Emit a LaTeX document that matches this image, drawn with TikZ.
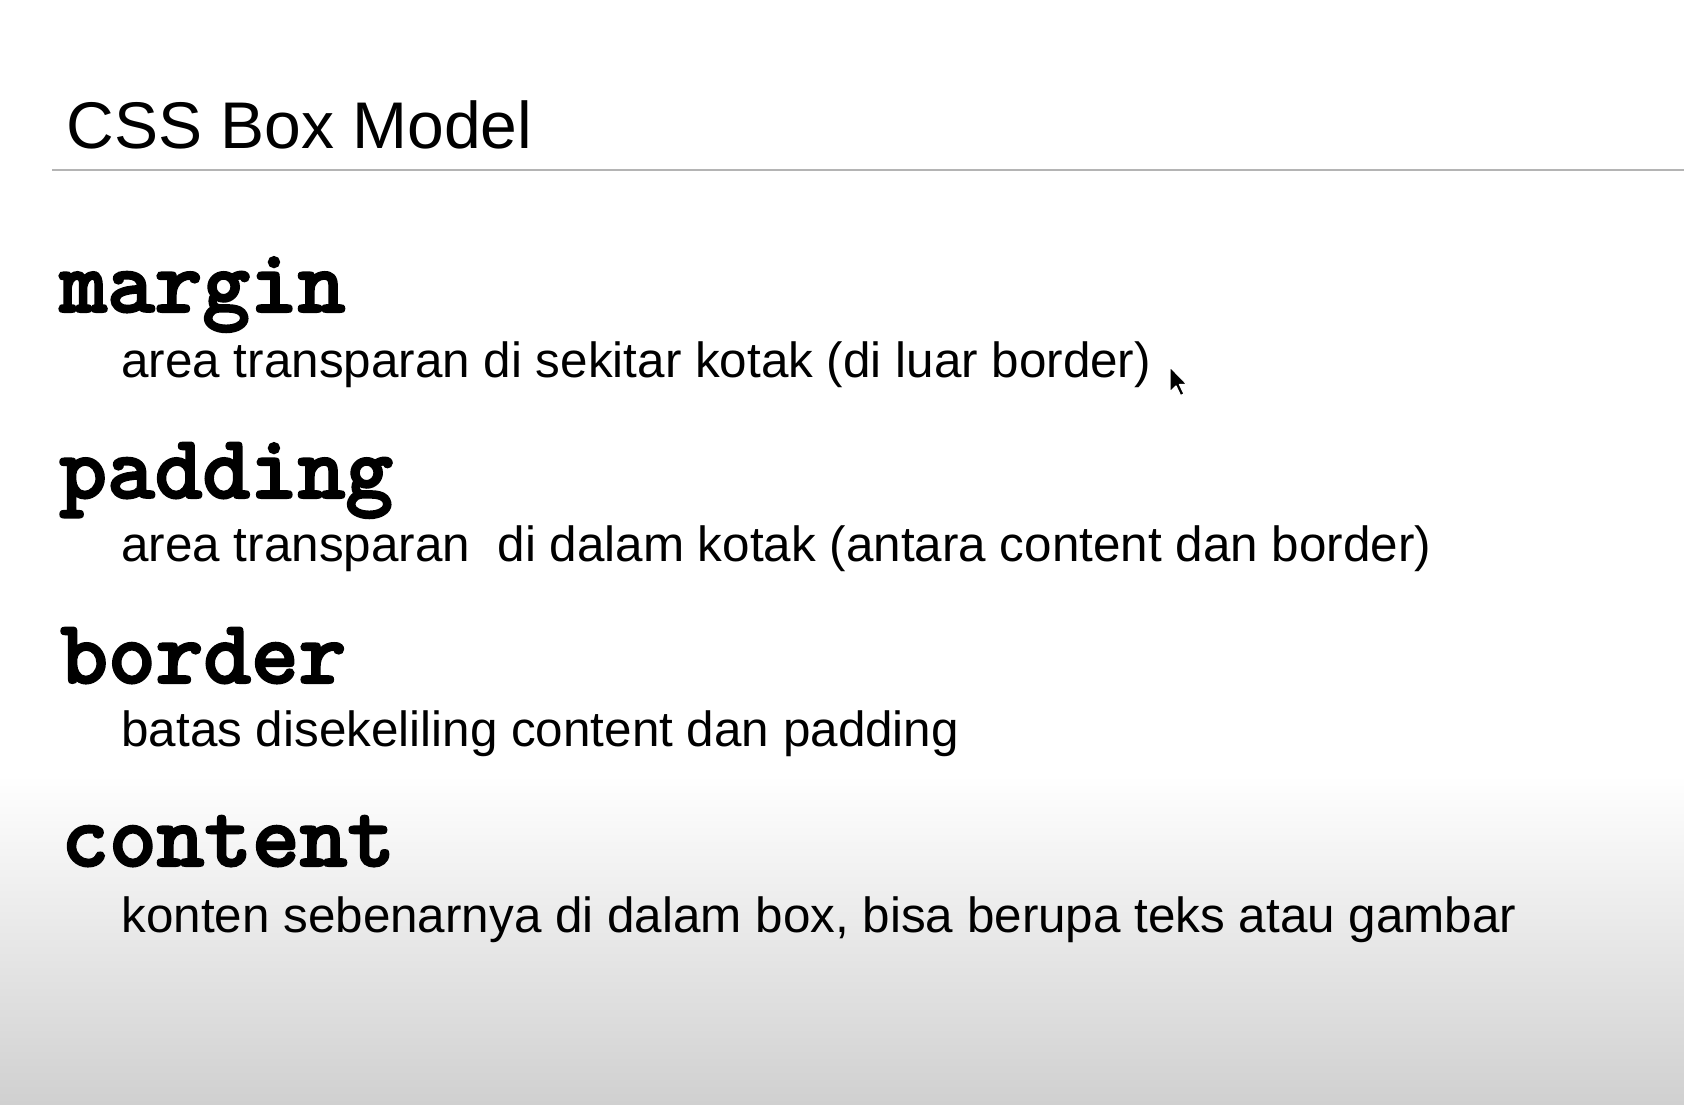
\documentclass[tikz,border=0pt]{standalone}
\usepackage{fontspec}
\setmainfont{Liberation Sans}
\newfontfamily\termfont{lmmonolt10-bold}[Extension=.otf, FakeBold=2.2]
\usepackage{tikz}
\definecolor{rulegray}{HTML}{B4B4B4}
\definecolor{bottomgray}{HTML}{D0D0D0}

\begin{document}
\begin{tikzpicture}[x=0.5pt, y=-0.5pt,
  term/.style={anchor=base west, inner sep=0pt, font=\termfont\fontsize{45.4}{50}\selectfont},
  desc/.style={anchor=base west, inner sep=0pt, font=\fontsize{24.7}{30}\selectfont}]
  % background, white fading to gray
  \fill [white] (0,0) rectangle (1684,1104);
  \shade [top color=white, bottom color=bottomgray] (0,775) rectangle (1684,1104);
  \useasboundingbox (0,0) rectangle (1684,1104);
  % heading
  \node (title) at (66,148) [anchor=base west, inner sep=0pt, font=\fontsize{33}{40}\selectfont] {CSS Box Model};
  \coordinate (ruleL) at (52,170);
  \coordinate (ruleR) at (1684,170);
  \draw [rulegray, line width=1pt] (ruleL) -- (ruleR);
  % terms
  \node (margin) at (59,312) [term] {margin};
  \node (margindesc) at (121,377) [desc] {area transparan di sekitar kotak (di luar border)};
  \node (padding) at (59,498) [term] {padding};
  \node (paddingdesc) at (121,561) [desc] {area transparan\ \ di dalam kotak (antara content dan border)};
  \node (border) at (60,683) [term] {border};
  \node (borderdesc) at (121,746) [desc] {batas disekeliling content dan padding};
  \node (content) at (61,866) [term] {content};
  \node (contentdesc) at (121,932) [desc] {konten sebenarnya di dalam box, bisa berupa teks atau gambar};
  % mouse pointer
  \draw [fill=black, draw=white, line width=0.6pt, line join=round, shift={(1170,367)}]
    (0,0) -- (0,25) -- (6,19) -- (10.5,28.5) -- (14,27) -- (9.5,17.5) -- (17,17.5) -- cycle;
\end{tikzpicture}
\end{document}
